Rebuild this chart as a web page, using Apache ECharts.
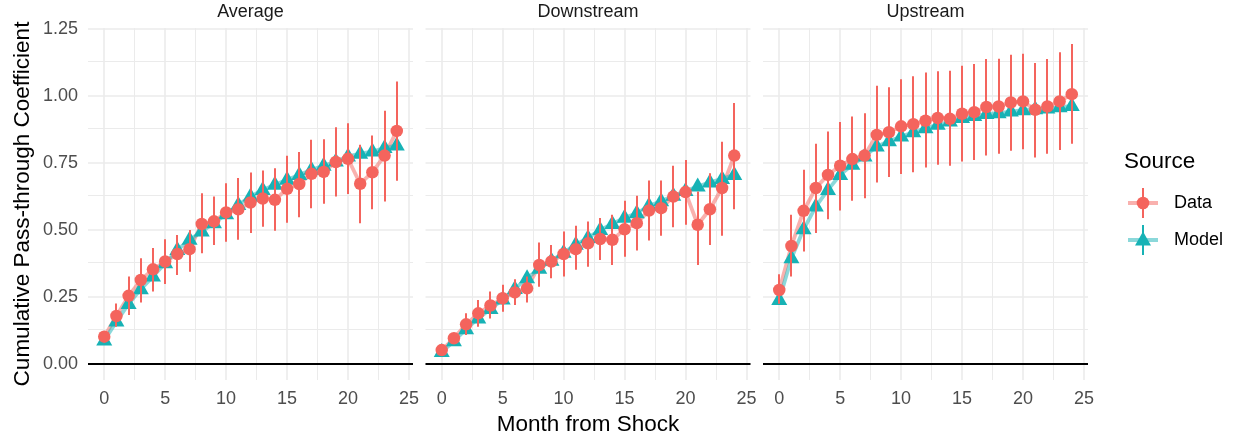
<!DOCTYPE html>
<html>
<head>
<meta charset="utf-8">
<script src="https://cdn.jsdelivr.net/npm/echarts@6/dist/echarts.min.js"></script>
<style>
  html, body { margin: 0; padding: 0; background: #ffffff; }
  #chart { width: 1238px; height: 442px; }
</style>
</head>
<body>
<div id="chart"></div>
<script>
// Months after the shock (x values shared by all panels)
const months = [0, 1, 2, 3, 4, 5, 6, 7, 8, 9, 10, 11, 12, 13, 14, 15, 16, 17, 18, 19, 20, 21, 22, 23, 24];

const panelNames = ['Average', 'Downstream', 'Upstream'];
const sourceNames = ['Data', 'Model'];

const xTicks = [0, 5, 10, 15, 20, 25];
const yTicks = [0, 0.25, 0.5, 0.75, 1, 1.25];

// Average
const avgData  = [0.102, 0.179, 0.254, 0.313, 0.353, 0.382, 0.410, 0.428, 0.522, 0.532, 0.565, 0.577, 0.602, 0.617, 0.612, 0.653, 0.671, 0.709, 0.716, 0.753, 0.765, 0.672, 0.715, 0.777, 0.869];
const avgLow   = [0.085, 0.139, 0.183, 0.229, 0.270, 0.298, 0.332, 0.344, 0.413, 0.444, 0.456, 0.463, 0.488, 0.512, 0.497, 0.527, 0.547, 0.581, 0.597, 0.624, 0.634, 0.525, 0.577, 0.606, 0.683];
const avgHigh  = [0.120, 0.226, 0.326, 0.394, 0.432, 0.465, 0.481, 0.500, 0.637, 0.624, 0.674, 0.693, 0.714, 0.721, 0.730, 0.776, 0.790, 0.836, 0.838, 0.883, 0.898, 0.817, 0.852, 0.944, 1.053];
const avgModel = [0.088, 0.158, 0.224, 0.279, 0.326, 0.376, 0.425, 0.463, 0.494, 0.525, 0.558, 0.593, 0.624, 0.649, 0.668, 0.687, 0.705, 0.724, 0.739, 0.755, 0.774, 0.784, 0.792, 0.805, 0.815];

// Downstream
const dsData  = [0.052, 0.096, 0.148, 0.189, 0.218, 0.245, 0.267, 0.282, 0.369, 0.382, 0.410, 0.428, 0.450, 0.466, 0.463, 0.502, 0.525, 0.572, 0.581, 0.624, 0.641, 0.519, 0.577, 0.656, 0.777];
const dsLow   = [0.040, 0.080, 0.108, 0.139, 0.170, 0.195, 0.220, 0.229, 0.288, 0.320, 0.326, 0.351, 0.363, 0.388, 0.369, 0.400, 0.423, 0.460, 0.478, 0.510, 0.519, 0.369, 0.444, 0.478, 0.577];
const dsHigh  = [0.064, 0.112, 0.189, 0.239, 0.270, 0.295, 0.316, 0.326, 0.453, 0.444, 0.494, 0.515, 0.531, 0.544, 0.556, 0.609, 0.627, 0.684, 0.684, 0.739, 0.761, 0.643, 0.711, 0.829, 0.973];
const dsModel = [0.045, 0.085, 0.130, 0.170, 0.205, 0.240, 0.280, 0.320, 0.355, 0.385, 0.415, 0.445, 0.470, 0.500, 0.522, 0.545, 0.562, 0.590, 0.607, 0.627, 0.645, 0.662, 0.677, 0.690, 0.705];

// Upstream
const upData  = [0.276, 0.440, 0.571, 0.656, 0.705, 0.739, 0.764, 0.777, 0.854, 0.864, 0.886, 0.894, 0.907, 0.917, 0.914, 0.933, 0.939, 0.958, 0.960, 0.975, 0.979, 0.948, 0.960, 0.979, 1.006];
const upLow   = [0.225, 0.326, 0.419, 0.488, 0.540, 0.572, 0.609, 0.618, 0.677, 0.697, 0.708, 0.715, 0.733, 0.743, 0.739, 0.755, 0.761, 0.777, 0.784, 0.795, 0.801, 0.770, 0.784, 0.798, 0.821];
const upHigh  = [0.335, 0.556, 0.724, 0.821, 0.867, 0.902, 0.923, 0.935, 1.037, 1.032, 1.062, 1.073, 1.087, 1.091, 1.093, 1.112, 1.118, 1.137, 1.138, 1.153, 1.157, 1.122, 1.137, 1.162, 1.193];
const upModel = [0.239, 0.394, 0.502, 0.587, 0.649, 0.705, 0.743, 0.774, 0.811, 0.830, 0.848, 0.864, 0.879, 0.892, 0.904, 0.917, 0.925, 0.932, 0.935, 0.941, 0.946, 0.950, 0.953, 0.957, 0.962];

const panels = [
  { name: panelNames[0], data: avgData, low: avgLow, high: avgHigh, model: avgModel },
  { name: panelNames[1], data: dsData,  low: dsLow,  high: dsHigh,  model: dsModel },
  { name: panelNames[2], data: upData,  low: upLow,  high: upHigh,  model: upModel }
];

// ---- styling / layout ----
const FONT = '"Liberation Sans", Arial, Helvetica, sans-serif';
const RED = '#F4645D';
const TEAL = '#17B2B5';
const GRID_COLOR = '#EBEBEB';

const panelLeft = [88, 425.5, 763];
const panelTop = 28;
const panelW = 325;
const panelH = 352;

// Scale limits: 5% padding around the plotted range (0 line and error bars included)
const yHi = Math.max(...upHigh, ...avgHigh, ...dsHigh);
const yLo = 0;
const yPad = (yHi - yLo) * 0.05;
const yMin = yLo - yPad, yMax = yHi + yPad;
const xLo = months[0] - 0.12, xHi = months[months.length - 1] + 0.12;
const xPad = (xHi - xLo) * 0.05;
const xMin = xLo - xPad, xMax = xHi + xPad;

const mid = arr => arr.slice(1).map((v, i) => (v + arr[i]) / 2);
const xMinor = mid(xTicks);
const yMinor = mid(yTicks);

const grids = [], xAxes = [], yAxes = [], series = [], graphics = [];

panels.forEach((p, i) => {
  grids.push({ left: panelLeft[i], top: panelTop, width: panelW, height: panelH });

  xAxes.push({
    type: 'value', gridIndex: i, min: xMin, max: xMax,
    axisLine: { show: false, onZero: false }, axisTick: { show: false },
    splitLine: { show: false },
    axisLabel: {
      customValues: xTicks, margin: 10,
      color: '#4D4D4D', fontSize: 18, fontFamily: FONT
    },
    name: i === 1 ? 'Month from Shock' : '',
    nameLocation: 'middle', nameGap: 33,
    nameTextStyle: { fontSize: 22.5, color: '#000000', fontFamily: FONT }
  });

  yAxes.push({
    type: 'value', gridIndex: i, min: yMin, max: yMax,
    axisLine: { show: false, onZero: false }, axisTick: { show: false },
    splitLine: { show: false },
    axisLabel: {
      show: i === 0, customValues: yTicks, margin: 10,
      color: '#4D4D4D', fontSize: 18, fontFamily: FONT,
      formatter: v => v.toFixed(2)
    },
    name: i === 0 ? 'Cumulative Pass-through Coefficient' : '',
    nameLocation: 'middle', nameGap: 54,
    nameTextStyle: { fontSize: 22.5, color: '#000000', fontFamily: FONT }
  });

  // panel grid lines + zero reference line, kept underneath all data marks
  const gridLine = (w) => ({ color: GRID_COLOR, width: w, type: 'solid' });
  series.push({
    type: 'line', xAxisIndex: i, yAxisIndex: i, data: [], silent: true, z: 0,
    markLine: {
      z: 0, zlevel: 0,
      silent: true, symbol: 'none', animation: false,
      label: { show: false },
      emphasis: { disabled: true },
      data: [
        ...yMinor.map(v => ({ yAxis: v, lineStyle: gridLine(1) })),
        ...xMinor.map(v => ({ xAxis: v, lineStyle: gridLine(1) })),
        ...yTicks.map(v => ({ yAxis: v, lineStyle: gridLine(1.6) })),
        ...xTicks.map(v => ({ xAxis: v, lineStyle: gridLine(1.6) })),
        { yAxis: 0, lineStyle: { color: '#000000', width: 1.8, type: 'solid' } }
      ]
    }
  });

  // connecting lines
  series.push({
    type: 'line', xAxisIndex: i, yAxisIndex: i, z: 2, silent: true,
    data: months.map((m, k) => [m, p.data[k]]),
    showSymbol: false, lineStyle: { color: RED, width: 3.8, opacity: 0.5 }
  });
  series.push({
    type: 'line', xAxisIndex: i, yAxisIndex: i, z: 2, silent: true,
    data: months.map((m, k) => [m, p.model[k]]),
    showSymbol: false, lineStyle: { color: TEAL, width: 3.8, opacity: 0.5 }
  });

  // model points
  series.push({
    type: 'scatter', xAxisIndex: i, yAxisIndex: i, z: 3, silent: true,
    data: months.map((m, k) => [m, p.model[k]]),
    symbol: 'triangle', symbolSize: [16, 14], symbolOffset: [0, -2],
    itemStyle: { color: TEAL, opacity: 1 }
  });

  // error bars on the data estimates (snapped to whole pixels so they stay crisp)
  series.push({
    type: 'custom', xAxisIndex: i, yAxisIndex: i, z: 4, silent: true,
    data: months.map((m, k) => [m, p.low[k], p.high[k]]),
    encode: { x: 0, y: [1, 2] },
    renderItem: (params, api) => {
      const a = api.coord([api.value(0), api.value(1)]);
      const b = api.coord([api.value(0), api.value(2)]);
      const x = Math.round(a[0]);
      return {
        type: 'line',
        shape: { x1: x, y1: a[1], x2: x, y2: b[1] },
        style: { stroke: RED, lineWidth: 2, opacity: 1 }
      };
    }
  });

  // data points
  series.push({
    type: 'scatter', xAxisIndex: i, yAxisIndex: i, z: 5, silent: true,
    data: months.map((m, k) => [m, p.data[k]]),
    symbol: 'circle', symbolSize: 12.5,
    itemStyle: { color: RED, opacity: 1 }
  });

  // facet label
  graphics.push({
    type: 'text', x: panelLeft[i] + panelW / 2, y: 12,
    style: {
      text: p.name, align: 'center', verticalAlign: 'middle',
      fill: '#1A1A1A', font: '18px ' + FONT
    }
  });
});

// legend
const legX = 1124, keyCx = 1143;
graphics.push({
  type: 'text', x: legX, y: 162,
  style: { text: 'Source', verticalAlign: 'middle', fill: '#000000', font: '22.5px ' + FONT }
});
const keyColors = [RED, TEAL];
const keyY = [203, 240];
sourceNames.forEach((name, j) => {
  const c = keyColors[j], cy = keyY[j];
  graphics.push({
    type: 'line', shape: { x1: keyCx - 15, y1: cy, x2: keyCx + 15, y2: cy },
    style: { stroke: c, lineWidth: 4, opacity: 0.5 }
  });
  graphics.push({
    type: 'line', shape: { x1: keyCx, y1: cy - 15, x2: keyCx, y2: cy + 15 },
    style: { stroke: c, lineWidth: 2 }
  });
  if (j === 0) {
    graphics.push({ type: 'circle', shape: { cx: keyCx, cy: cy, r: 6.3 }, style: { fill: c } });
  } else {
    graphics.push({
      type: 'polygon',
      shape: { points: [[keyCx, cy - 8.5], [keyCx + 8, cy + 5.5], [keyCx - 8, cy + 5.5]] },
      style: { fill: c }
    });
  }
  graphics.push({
    type: 'text', x: 1174, y: cy,
    style: { text: name, verticalAlign: 'middle', fill: '#000000', font: '18px ' + FONT }
  });
});

const chart = echarts.init(document.getElementById('chart'), null, { renderer: 'canvas' });
chart.setOption({
  animation: false,
  backgroundColor: '#ffffff',
  grid: grids,
  xAxis: xAxes,
  yAxis: yAxes,
  series: series,
  graphic: graphics
});
</script>
</body>
</html>
